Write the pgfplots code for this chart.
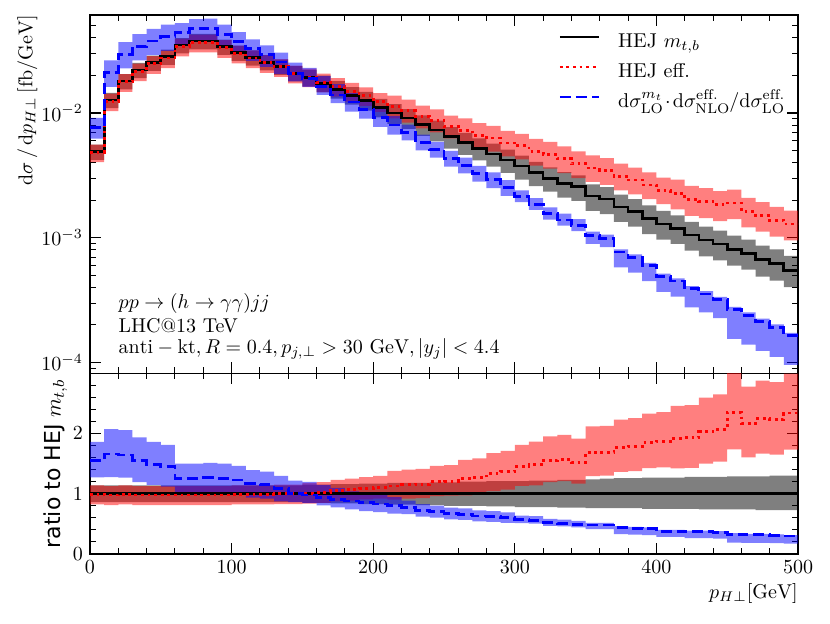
\documentclass[border=0pt]{standalone}
\usepackage{fontspec}
\newfontfamily\djv{DejaVu Sans}
\usepackage{pgfplots}
\pgfplotsset{compat=1.18}
\usepackage{pgfplotstable}
\usepgfplotslibrary{fillbetween}

\pgfplotstableread{
x bk bkl bkh rd rdl rdh bl bll blh
0 4.90e-3 4.21e-3 5.59e-3 4.85e-3 4.03e-3 5.58e-3 7.60e-3 6.23e-3 9.12e-3
10 1.27e-2 1.092e-2 1.448e-2 1.245e-2 1.033e-2 1.432e-2 2.108e-2 1.623e-2 2.635e-2
20 1.80e-2 1.548e-2 2.052e-2 1.782e-2 1.479e-2 2.049e-2 2.961e-2 2.280e-2 3.701e-2
30 2.21e-2 1.901e-2 2.519e-2 2.166e-2 1.798e-2 2.491e-2 3.426e-2 2.638e-2 4.283e-2
40 2.53e-2 2.176e-2 2.884e-2 2.479e-2 2.058e-2 2.851e-2 3.770e-2 2.903e-2 4.713e-2
50 2.82e-2 2.425e-2 3.215e-2 2.764e-2 2.294e-2 3.179e-2 4.089e-2 3.149e-2 5.111e-2
60 3.50e-2 3.010e-2 3.990e-2 3.430e-2 2.847e-2 3.945e-2 4.410e-2 3.528e-2 5.248e-2
70 3.77e-2 3.242e-2 4.298e-2 3.695e-2 3.067e-2 4.249e-2 4.750e-2 3.800e-2 5.653e-2
80 3.77e-2 3.242e-2 4.298e-2 3.695e-2 3.067e-2 4.249e-2 4.788e-2 3.830e-2 5.698e-2
90 3.40e-2 2.924e-2 3.876e-2 3.332e-2 2.766e-2 3.832e-2 4.284e-2 3.427e-2 5.098e-2
100 3.04e-2 2.614e-2 3.466e-2 3.010e-2 2.498e-2 3.462e-2 3.739e-2 2.991e-2 4.449e-2
110 2.79e-2 2.399e-2 3.181e-2 2.762e-2 2.292e-2 3.176e-2 3.264e-2 2.611e-2 3.884e-2
120 2.55e-2 2.193e-2 2.907e-2 2.525e-2 2.096e-2 2.904e-2 2.933e-2 2.346e-2 3.490e-2
130 2.35e-2 2.021e-2 2.679e-2 2.350e-2 1.951e-2 2.703e-2 2.562e-2 2.050e-2 3.049e-2
140 2.08e-2 1.789e-2 2.371e-2 2.080e-2 1.726e-2 2.392e-2 2.080e-2 1.789e-2 2.538e-2
150 1.92e-2 1.632e-2 2.208e-2 1.939e-2 1.609e-2 2.269e-2 1.882e-2 1.619e-2 2.296e-2
160 1.73e-2 1.471e-2 1.990e-2 1.765e-2 1.465e-2 2.065e-2 1.626e-2 1.398e-2 1.984e-2
170 1.55e-2 1.302e-2 1.798e-2 1.628e-2 1.351e-2 1.905e-2 1.395e-2 1.200e-2 1.702e-2
180 1.39e-2 1.168e-2 1.612e-2 1.487e-2 1.234e-2 1.740e-2 1.223e-2 1.027e-2 1.443e-2
190 1.26e-2 1.046e-2 1.474e-2 1.373e-2 1.140e-2 1.606e-2 1.071e-2 9.00e-3 1.264e-2
200 1.11e-2 9.21e-3 1.299e-2 1.232e-2 1.023e-2 1.441e-2 9.21e-3 7.74e-3 1.087e-2
210 1.00e-2 8.20e-3 1.180e-2 1.130e-2 9.04e-3 1.379e-2 8.00e-3 6.72e-3 9.44e-3
220 9.10e-3 7.46e-3 1.074e-2 1.047e-2 8.38e-3 1.277e-2 7.01e-3 6.03e-3 8.06e-3
230 8.10e-3 6.56e-3 9.56e-3 9.40e-3 7.52e-3 1.147e-2 5.83e-3 5.01e-3 6.70e-3
240 7.30e-3 5.91e-3 8.69e-3 8.76e-3 7.01e-3 1.069e-2 5.11e-3 4.39e-3 5.88e-3
250 6.46e-3 5.17e-3 7.69e-3 7.82e-3 6.26e-3 9.54e-3 4.33e-3 3.72e-3 4.98e-3
260 5.78e-3 4.62e-3 6.94e-3 7.23e-3 5.64e-3 9.04e-3 3.81e-3 3.28e-3 4.38e-3
270 5.21e-3 4.17e-3 6.25e-3 6.62e-3 5.16e-3 8.28e-3 3.28e-3 2.82e-3 3.77e-3
280 4.70e-3 3.71e-3 5.69e-3 6.30e-3 4.91e-3 7.88e-3 2.91e-3 2.50e-3 3.35e-3
290 4.20e-3 3.32e-3 5.08e-3 5.75e-3 4.49e-3 7.19e-3 2.52e-3 2.17e-3 2.90e-3
300 3.76e-3 2.93e-3 4.55e-3 5.45e-3 4.25e-3 6.81e-3 2.14e-3 1.93e-3 2.40e-3
310 3.32e-3 2.59e-3 4.05e-3 4.91e-3 3.78e-3 6.19e-3 1.86e-3 1.67e-3 2.08e-3
320 3.00e-3 2.34e-3 3.66e-3 4.65e-3 3.58e-3 5.86e-3 1.56e-3 1.40e-3 1.75e-3
330 2.73e-3 2.10e-3 3.36e-3 4.29e-3 3.30e-3 5.41e-3 1.39e-3 1.25e-3 1.56e-3
340 2.57e-3 1.98e-3 3.16e-3 3.91e-3 3.01e-3 4.93e-3 1.26e-3 1.13e-3 1.41e-3
350 2.16e-3 1.64e-3 2.68e-3 3.63e-3 2.80e-3 4.57e-3 1.04e-3 8.94e-4 1.12e-3
360 2.04e-3 1.55e-3 2.55e-3 3.45e-3 2.66e-3 4.35e-3 9.80e-4 8.43e-4 1.06e-3
370 1.76e-3 1.34e-3 2.22e-3 3.12e-3 2.40e-3 3.93e-3 7.70e-4 5.78e-4 8.09e-4
380 1.62e-3 1.23e-3 2.04e-3 2.90e-3 2.23e-3 3.65e-3 7.00e-4 5.25e-4 7.35e-4
390 1.43e-3 1.07e-3 1.82e-3 2.65e-3 2.04e-3 3.34e-3 6.00e-4 4.50e-4 6.30e-4
400 1.29e-3 9.68e-4 1.64e-3 2.41e-3 1.86e-3 3.04e-3 4.90e-4 3.68e-4 5.15e-4
410 1.19e-3 8.93e-4 1.51e-3 2.28e-3 1.69e-3 2.92e-3 4.50e-4 3.38e-4 4.73e-4
420 1.05e-3 7.88e-4 1.34e-3 2.03e-3 1.50e-3 2.60e-3 3.90e-4 2.77e-4 4.10e-4
430 9.60e-4 7.10e-4 1.23e-3 1.95e-3 1.44e-3 2.50e-3 3.55e-4 2.52e-4 3.73e-4
440 8.90e-4 6.59e-4 1.14e-3 1.84e-3 1.36e-3 2.36e-3 3.20e-4 2.27e-4 3.36e-4
450 8.10e-4 5.99e-4 1.04e-3 1.90e-3 1.41e-3 2.43e-3 2.67e-4 1.55e-4 2.80e-4
460 7.50e-4 5.55e-4 9.68e-4 1.63e-3 1.21e-3 2.09e-3 2.40e-4 1.39e-4 2.52e-4
470 6.70e-4 4.89e-4 8.64e-4 1.51e-3 1.12e-3 1.93e-3 2.14e-4 1.24e-4 2.25e-4
480 6.20e-4 4.53e-4 8.06e-4 1.38e-3 1.02e-3 1.77e-3 1.92e-4 1.11e-4 2.02e-4
490 5.50e-4 4.02e-4 7.15e-4 1.29e-3 9.55e-4 1.65e-3 1.65e-4 9.57e-5 1.73e-4
500 5.50e-4 4.02e-4 7.15e-4 1.29e-3 9.55e-4 1.65e-3 1.65e-4 9.57e-5 1.73e-4
}\maintab

\pgfplotstableread{
x gl gh rr rrl rrh br brl brh
0 0.86 1.14 0.99 0.822 1.139 1.55 1.271 1.860
10 0.86 1.14 0.98 0.813 1.127 1.66 1.278 2.075
20 0.86 1.14 0.99 0.822 1.139 1.645 1.267 2.056
30 0.86 1.14 0.98 0.813 1.127 1.55 1.194 1.938
40 0.86 1.14 0.98 0.813 1.127 1.49 1.147 1.863
50 0.86 1.14 0.98 0.813 1.127 1.45 1.117 1.813
60 0.86 1.14 0.98 0.813 1.127 1.26 1.008 1.499
70 0.86 1.14 0.98 0.813 1.127 1.26 1.008 1.499
80 0.86 1.14 0.98 0.813 1.127 1.27 1.016 1.511
90 0.86 1.14 0.98 0.813 1.127 1.26 1.008 1.499
100 0.86 1.14 0.99 0.822 1.139 1.23 0.984 1.464
110 0.86 1.14 0.99 0.822 1.139 1.17 0.936 1.392
120 0.86 1.14 0.99 0.822 1.139 1.15 0.920 1.369
130 0.86 1.14 1.00 0.830 1.150 1.09 0.872 1.297
140 0.86 1.14 1.00 0.830 1.150 1.00 0.860 1.220
150 0.85 1.15 1.01 0.838 1.182 0.98 0.843 1.196
160 0.85 1.15 1.02 0.847 1.193 0.94 0.808 1.147
170 0.84 1.16 1.05 0.872 1.229 0.90 0.774 1.098
180 0.84 1.16 1.07 0.888 1.252 0.88 0.739 1.038
190 0.83 1.17 1.09 0.905 1.275 0.85 0.714 1.003
200 0.83 1.17 1.11 0.921 1.299 0.83 0.697 0.979
210 0.82 1.18 1.13 0.904 1.379 0.80 0.672 0.944
220 0.82 1.18 1.15 0.920 1.403 0.77 0.662 0.886
230 0.81 1.18 1.16 0.928 1.415 0.72 0.619 0.828
240 0.81 1.19 1.20 0.960 1.464 0.70 0.602 0.805
250 0.80 1.19 1.21 0.968 1.476 0.67 0.576 0.771
260 0.80 1.20 1.25 0.975 1.563 0.66 0.568 0.759
270 0.80 1.20 1.27 0.991 1.588 0.63 0.542 0.725
280 0.79 1.21 1.34 1.045 1.675 0.62 0.533 0.713
290 0.79 1.21 1.37 1.069 1.713 0.60 0.516 0.690
300 0.78 1.21 1.45 1.131 1.813 0.57 0.513 0.638
310 0.78 1.22 1.48 1.140 1.865 0.56 0.504 0.627
320 0.78 1.22 1.55 1.194 1.953 0.52 0.468 0.582
330 0.77 1.23 1.57 1.209 1.978 0.51 0.459 0.571
340 0.77 1.23 1.52 1.170 1.915 0.49 0.441 0.549
350 0.76 1.24 1.68 1.294 2.117 0.48 0.413 0.518
360 0.76 1.25 1.69 1.301 2.129 0.48 0.413 0.518
370 0.76 1.26 1.77 1.363 2.230 0.44 0.330 0.462
380 0.76 1.26 1.79 1.378 2.255 0.43 0.323 0.452
390 0.75 1.27 1.85 1.425 2.331 0.42 0.315 0.441
400 0.75 1.27 1.87 1.440 2.356 0.38 0.285 0.399
410 0.75 1.27 1.92 1.421 2.458 0.38 0.285 0.399
420 0.75 1.28 1.93 1.428 2.470 0.37 0.263 0.389
430 0.74 1.28 2.03 1.502 2.598 0.37 0.263 0.389
440 0.74 1.28 2.07 1.532 2.650 0.36 0.256 0.378
450 0.74 1.29 2.35 1.739 3.100 0.33 0.191 0.347
460 0.74 1.29 2.17 1.606 2.778 0.32 0.186 0.336
470 0.73 1.29 2.25 1.665 2.880 0.32 0.186 0.336
480 0.73 1.30 2.23 1.650 2.854 0.31 0.180 0.326
490 0.73 1.30 2.34 1.732 2.995 0.30 0.174 0.315
500 0.73 1.30 2.34 1.732 2.995 0.30 0.174 0.315
}\ratiotab

\begin{document}
\begin{tikzpicture}
\pgfplotsset{
  panel/.style={
    scale only axis, width=354pt,
    xmin=0, xmax=500,
    xtick={0,100,200,300,400,500},
    minor x tick num=4,
    tick align=inside, tick pos=both,
    major tick length=5.5pt, minor tick length=3pt,
    every tick/.style={black, line width=0.6pt},
    every minor tick/.style={black, line width=0.5pt},
    axis line style={line width=0.8pt},
    clip=true,
  },
}
\begin{axis}[panel, name=main, at={(0,0)}, anchor=south west,
  height=179.15pt,
  ymode=log, ymin=8.2e-5, ymax=6.1e-2,
  xticklabels={},
  ylabel={$\mathrm{d}\sigma\,/\,\mathrm{d}p_{H\perp}\,[\mathrm{fb}/\mathrm{GeV}]$},
  ylabel style={at={(axis description cs:-0.0883,1)}, anchor=east, inner sep=0pt},
  legend cell align=left,
  legend image code/.code={\draw[#1] (0pt,2.6pt) -- (19.5pt,2.6pt);},
  legend style={draw=none, fill=none, at={(axis description cs:0,1)}, anchor=north west,
    xshift=234pt, yshift=-7.85pt, inner sep=0pt, row sep=4pt, column sep=9pt,
    nodes={inner sep=0pt, text height=8pt, text depth=3pt}},
]
\addplot[draw=none, const plot mark left, name path=bkl, forget plot] table[x=x,y=bkl]{\maintab};
\addplot[draw=none, const plot mark left, name path=bkh, forget plot] table[x=x,y=bkh]{\maintab};
\addplot[fill=black, fill opacity=0.5, draw=none, forget plot] fill between[of=bkl and bkh];
\addplot[draw=none, const plot mark left, name path=rdl, forget plot] table[x=x,y=rdl]{\maintab};
\addplot[draw=none, const plot mark left, name path=rdh, forget plot] table[x=x,y=rdh]{\maintab};
\addplot[fill=red, fill opacity=0.5, draw=none, forget plot] fill between[of=rdl and rdh];
\addplot[draw=none, const plot mark left, name path=bll, forget plot] table[x=x,y=bll]{\maintab};
\addplot[draw=none, const plot mark left, name path=blh, forget plot] table[x=x,y=blh]{\maintab};
\addplot[fill=blue, fill opacity=0.5, draw=none, forget plot] fill between[of=bll and blh];

\addplot[black, line width=1.35pt, const plot mark left] table[x=x,y=bk]{\maintab};
\addlegendentry{HEJ $m_{t,b}$}
\addplot[red, line width=1.4pt, dash pattern=on 1.4pt off 1.9pt, const plot mark left] table[x=x,y=rd]{\maintab};
\addlegendentry{HEJ eff.}
\addplot[blue, line width=1.4pt, dash pattern=on 5.5pt off 2.5pt, const plot mark left] table[x=x,y=bl]{\maintab};
\addlegendentry{\scriptspace=0pt\medmuskip=2mu$\mathrm{d}\sigma^{m_t}_{\mathrm{LO}}\cdot\mathrm{d}\sigma^{\mathrm{eff.}}_{\mathrm{NLO}}/\mathrm{d}\sigma^{\mathrm{eff.}}_{\mathrm{LO}}$}

\node[anchor=base west, inner sep=0pt] at (rel axis cs:0.04,0.1822) {$pp\rightarrow(h\rightarrow\gamma\gamma)jj$};
\node[anchor=base west, inner sep=0pt] at (rel axis cs:0.04,0.1140) {LHC@13 TeV};
\node[anchor=base west, inner sep=0pt] at (rel axis cs:0.04,0.0553) {$\mathrm{anti-kt}, R=0.4, p_{j,\perp}>30~\mathrm{GeV}, |y_j|<4.4$};
\end{axis}

\begin{axis}[panel, name=ratio, at={(0,0)}, anchor=north west,
  height=90.35pt,
  ymin=0, ymax=3,
  ytick={0,1,2},
  minor ytick={0.2,0.4,0.6,0.8,1.2,1.4,1.6,1.8,2.2,2.4,2.6,2.8},
  ylabel={{\djv\fontsize{11}{13}\selectfont ratio to HEJ $m_{t,b}$}},
  ylabel style={at={(axis description cs:-0.0487,0.5)}, anchor=center, inner sep=0pt},
  xlabel={$p_{H\perp}[\mathrm{GeV}]$},
  xlabel style={at={(axis description cs:1,0)}, anchor=base east, yshift=-22.2pt, inner sep=0pt},
]
\addplot[draw=none, const plot mark left, name path=gl, forget plot] table[x=x,y=gl]{\ratiotab};
\addplot[draw=none, const plot mark left, name path=gh, forget plot] table[x=x,y=gh]{\ratiotab};
\addplot[fill=black, fill opacity=0.5, draw=none, forget plot] fill between[of=gl and gh];
\addplot[draw=none, const plot mark left, name path=rrl, forget plot] table[x=x,y=rrl]{\ratiotab};
\addplot[draw=none, const plot mark left, name path=rrh, forget plot] table[x=x,y=rrh]{\ratiotab};
\addplot[fill=red, fill opacity=0.5, draw=none, forget plot] fill between[of=rrl and rrh];
\addplot[draw=none, const plot mark left, name path=brl, forget plot] table[x=x,y=brl]{\ratiotab};
\addplot[draw=none, const plot mark left, name path=brh, forget plot] table[x=x,y=brh]{\ratiotab};
\addplot[fill=blue, fill opacity=0.5, draw=none, forget plot] fill between[of=brl and brh];

\addplot[black, line width=1.35pt] coordinates {(0,1) (500,1)};
\addplot[red, line width=1.4pt, dash pattern=on 1.4pt off 1.9pt, const plot mark left] table[x=x,y=rr]{\ratiotab};
\addplot[blue, line width=1.4pt, dash pattern=on 5.5pt off 2.5pt, const plot mark left] table[x=x,y=br]{\ratiotab};
\end{axis}

\pgfresetboundingbox
\useasboundingbox (-45pt,-124.85pt) rectangle (370pt,186.65pt);
\end{tikzpicture}
\end{document}
